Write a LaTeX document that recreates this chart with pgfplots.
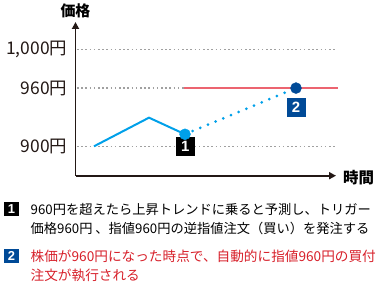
\documentclass[border=0pt]{standalone}
\usepackage{pgfplots}
\pgfplotsset{compat=1.18}
\usepackage{fontspec}
\usetikzlibrary{arrows.meta}
\setmainfont{Noto Sans CJK JP}
\newfontfamily\boxfont{Liberation Sans}

\definecolor{axisdark}{HTML}{231815}
\definecolor{priceblue}{HTML}{00A0E9}
\definecolor{markblue}{HTML}{004A97}
\definecolor{limitred}{HTML}{EC6470}
\definecolor{notered}{HTML}{D7202A}
\definecolor{gridgray}{HTML}{A0A0A0}

\begin{document}
\begin{tikzpicture}[x=1bp,y=1bp]
\path[use as bounding box] (0,0) rectangle (377,283);
\begin{axis}[
  at={(75.5bp,107.3bp)}, anchor=south west,
  scale only axis, width=260.5bp, height=153.7bp,
  xmin=75.5, xmax=336, ymin=869.7, ymax=1028.1,
  axis lines=left,
  axis line style={line width=1.8bp, color=axisdark, -{Triangle[length=7bp,width=7bp]}},
  xtick=\empty,
  ytick={900,960,1000},
  yticklabels={900円,960円,{1,000円}},
  major tick length=0pt,
  yticklabel style={font=\fontsize{17.5}{17.5}\selectfont, inner sep=0pt, xshift=-8bp, text=axisdark},
  clip=false,
]
% dotted price levels
\addplot[gridgray, line width=1.5bp, dash pattern=on 1.6bp off 2.6bp] coordinates {(77,1000) (337,1000)};
\addplot[gridgray, line width=1.5bp, dash pattern=on 1.6bp off 2.6bp] coordinates {(77,960) (184,960)};
\addplot[gridgray, line width=1.5bp, dash pattern=on 1.6bp off 2.6bp] coordinates {(77,900) (337,900)};
% limit price
\addplot[limitred, line width=2bp] coordinates {(184,960) (338,960)};
% price so far
\addplot[priceblue, line width=2bp] coordinates {(94,900) (149,929.5) (185,912.4)};
% expected move up to the trigger
\addplot[priceblue, line width=3bp, line cap=round, dash pattern=on 0bp off 8.3bp] coordinates {(185,912.4) (296,960)};
\addplot[only marks, mark=*, mark size=5.5bp, priceblue, mark options={draw=priceblue, fill=priceblue}] coordinates {(185,912.4)};
\addplot[only marks, mark=*, mark size=5.5bp, markblue, mark options={draw=markblue, fill=markblue}] coordinates {(296,960)};
\node[fill=black, text=white, minimum width=19bp, minimum height=19bp, inner sep=0pt, font=\boxfont\bfseries\fontsize{15}{15}\selectfont] at (axis cs:185.3,899.8) {1};
\node[fill=markblue, text=white, minimum width=19bp, minimum height=19bp, inner sep=0pt, font=\boxfont\bfseries\fontsize{15}{15}\selectfont] at (axis cs:296,940) {2};
\end{axis}
% axis titles
\node[font=\bfseries\fontsize{15}{15}\selectfont, inner sep=0pt] at (75.5,283-11) {価格};
\node[font=\bfseries\fontsize{15.5}{15.5}\selectfont, inner sep=0pt, anchor=west] at (343,283-178) {時間};
% notes
\node[fill=black, text=white, minimum width=15bp, minimum height=14bp, inner sep=0pt, font=\boxfont\bfseries\fontsize{13}{13}\selectfont] at (11.5,283-209) {1};
\node[fill=markblue, text=white, minimum width=15bp, minimum height=14bp, inner sep=0pt, font=\boxfont\bfseries\fontsize{13}{13}\selectfont] at (11.5,283-256) {2};
\begin{scope}[every node/.style={anchor=west, inner sep=0pt, font=\fontsize{13.3}{13.3}\selectfont}]
\node at (30.5,283-209.5) {960円を超えたら上昇トレンドに乗ると予測し、トリガー};
\node at (30.5,283-228) {価格960円 、指値960円の逆指値注文（買い）を発注する};
\node[text=notered, font=\fontsize{13.7}{13.7}\selectfont] at (30.5,283-256.5) {株価が960円になった時点で、自動的に指値960円の買付};
\node[text=notered, font=\fontsize{13.7}{13.7}\selectfont] at (30.5,283-275) {注文が執行される};
\end{scope}
\end{tikzpicture}
\end{document}
